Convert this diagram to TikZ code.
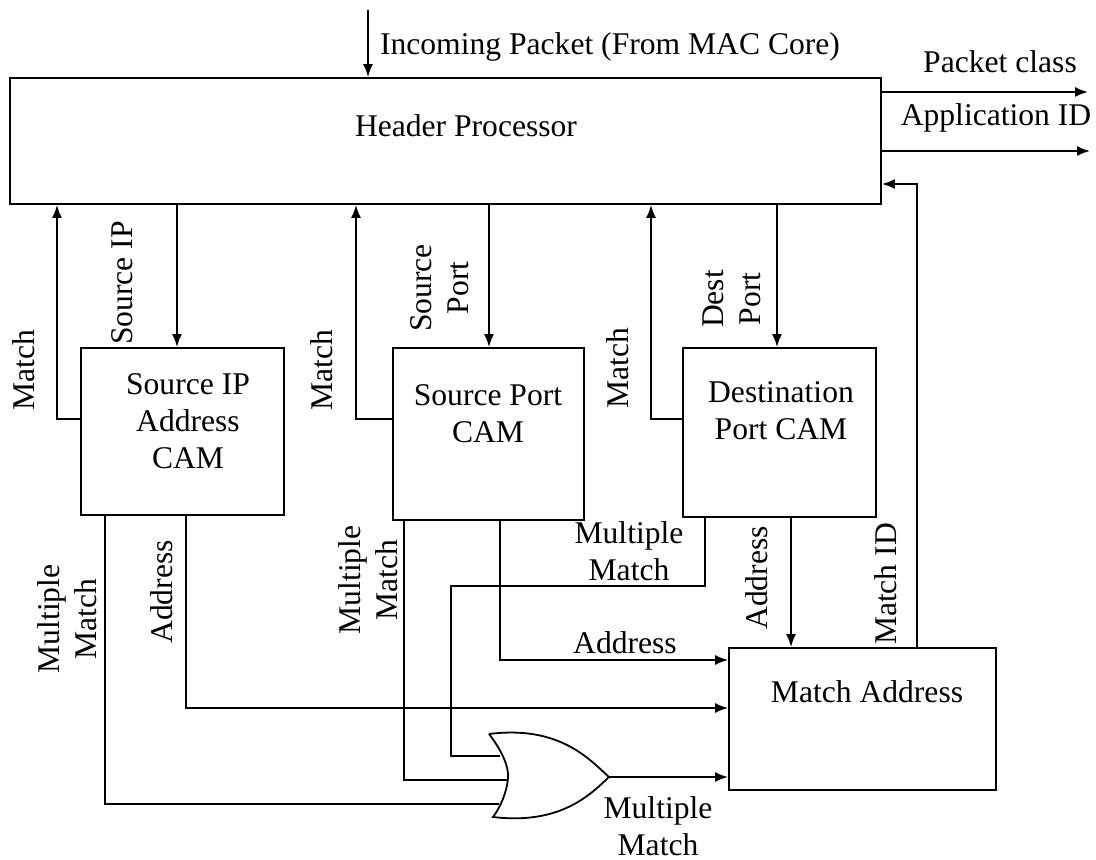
\documentclass[tikz,border=0pt]{standalone}
\usepackage{fontspec}
\setmainfont{Liberation Serif}
\usetikzlibrary{fit,arrows.meta}

\begin{document}
\begin{tikzpicture}[x=0.5pt,y=-0.5pt,
block/.style={draw,line width=0.9pt,inner sep=0pt},
wire/.style={line width=0.9pt},
sig/.style={wire,-{Latex[length=6.5pt,width=5pt]}}]
\tikzstyle{txt}=[font=\fontsize{15.8}{18.5}\selectfont,align=center,inner sep=0pt]
\tikzstyle{vtxt}=[txt,rotate=90]
\useasboundingbox (0,0) rectangle (1096,860);

% blocks
\node[block, fit={(10,78) (881,204)}] (hp) {};
\node[block, fit={(81,348) (284,515)}] (sipcam) {};
\node[block, fit={(393,348) (584,520)}] (spcam) {};
\node[block, fit={(683,348) (876,517)}] (dpcam) {};
\node[block, fit={(729,648) (996,790)}] (madr) {};

\node[txt] (hptxt) at (466,126) {Header Processor};
\node[txt] (siptxt) at (188,421) {Source IP\\Address\\CAM};
\node[txt] (sptxt) at (488,414) {Source Port\\CAM};
\node[txt] (dptxt) at (781,411) {Destination\\Port CAM};
\node[txt] (madrtxt) at (867,692) {Match Address};

% or gate
\coordinate (gin1) at (500,756);
\coordinate (gin2) at (508,780);
\coordinate (gin3) at (499,804);
\coordinate (gout) at (609,777);
\draw[wire,fill=white] (489,734) .. controls (560,725) and (590,760) .. (gout)
  .. controls (590,795) and (560,825) .. (493,817)
  .. controls (500,808) and (507,792) .. (508,778)
  .. controls (509,768) and (503,752) .. (489,734);

% header in/out
\coordinate (inpkt) at (368,10);
\coordinate (pcls) at (1088,92);
\coordinate (appid) at (1090,151);
\draw[sig] (inpkt) -- (inpkt |- hp.north);
\draw[sig] (pcls -| hp.east) -- (pcls);
\draw[sig] (appid -| hp.east) -- (appid);
\node[txt] (inpkttxt) at (610,47) {Incoming Packet (From MAC Core)};
\node[txt] (pclstxt) at (1000,62) {Packet class};
\node[txt] (appidtxt) at (996,118) {Application ID};

% header to CAMs
\draw[sig] (hp.south -| 177,0) -- (sipcam.north -| 177,0);
\draw[sig] (hp.south -| 489,0) -- (spcam.north -| 489,0);
\draw[sig] (hp.south -| 777,0) -- (dpcam.north -| 777,0);
\node[vtxt] (siptag) at (122,283) {Source IP};
\node[vtxt] (sptag) at (440,288) {Source\\Port};
\node[vtxt] (dptag) at (732,299) {Dest\\Port};

% match lines back up
\draw[sig] (sipcam.west |- 0,419) -| (hp.south -| 57,0);
\draw[sig] (spcam.west |- 0,419) -| (hp.south -| 356,0);
\draw[sig] (dpcam.west |- 0,419) -| (hp.south -| 651,0);
\node[vtxt] (m1txt) at (24,370) {Match};
\node[vtxt] (m2txt) at (322,370) {Match};
\node[vtxt] (m3txt) at (618,368) {Match};

% addresses
\draw[sig] (sipcam.south -| 186,0) |- (madr.west |- 0,708);
\draw[sig] (spcam.south -| 500,0) |- (madr.west |- 0,660);
\draw[sig] (dpcam.south -| 791,0) -- (madr.north -| 791,0);
\node[vtxt] (a1txt) at (162,592) {Address};
\node[txt] (a2txt) at (625,643) {Address};
\node[vtxt] (a3txt) at (757,578) {Address};

% multiple match into the gate
\draw[wire] (sipcam.south -| 105,0) |- (gin3);
\draw[wire] (spcam.south -| 404,0) |- (gin2);
\draw[wire] (dpcam.south -| 705,0) |- (451,586) |- (gin1);
\draw[sig] (gout) -- (madr.west |- gout);
\node[vtxt] (mm1txt) at (67,619) {Multiple\\Match};
\node[vtxt] (mm2txt) at (368,580) {Multiple\\Match};
\node[txt] (mm3txt) at (629,551) {Multiple\\Match};
\node[txt] (mm4txt) at (658,826) {Multiple\\Match};

% match id back to header
\draw[sig] (madr.north -| 917,0) |- (hp.east |- 0,184);
\node[vtxt] (midtxt) at (886,584) {Match ID};
\end{tikzpicture}
\end{document}
